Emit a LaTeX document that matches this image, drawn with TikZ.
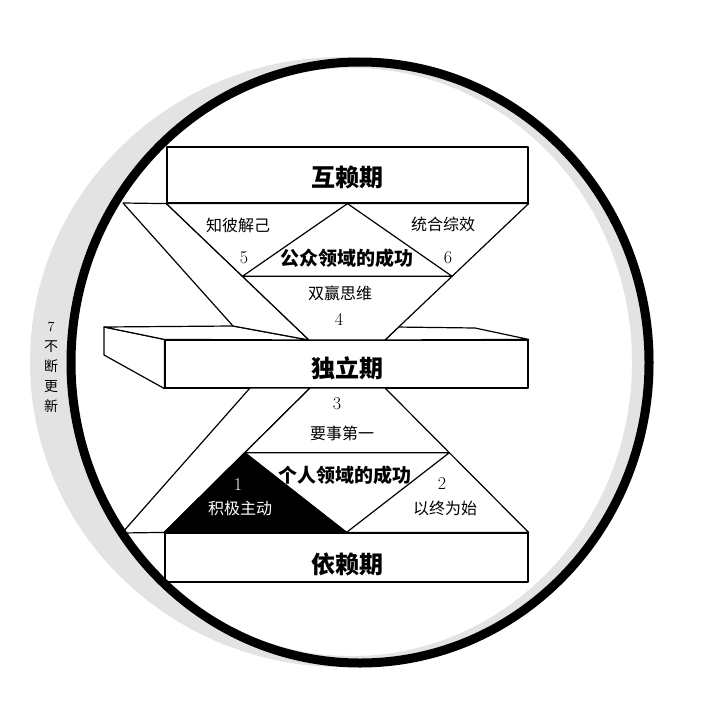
\documentclass[tikz,border=0pt]{standalone}
\usepackage{fontspec}
\newfontfamily\cjk{Noto Sans CJK SC}
\usetikzlibrary{calc}

\begin{document}
\begin{tikzpicture}[
    x=1pt, y=-1pt,                         % 按像素取坐标, y 向下
    line width=1.2pt, line join=round,
    face/.style={draw, fill=white},
    bar/.style={draw, fill=white, minimum width=363pt, inner sep=0pt},
    stage/.style={font=\cjk\bfseries\fontsize{24}{24}\selectfont},
    area/.style={font=\cjk\bfseries\fontsize{19}{19}\selectfont},
    habit/.style={font=\cjk\fontsize{16}{16}\selectfont},
    num/.style={font=\fontsize{18}{18}\selectfont}
  ]
  \useasboundingbox (0,0) rectangle (704,704);

  % 灰色晕边
  \fill[gray!22, even odd rule] (342,362) ellipse [x radius=312, y radius=305]
                                (352,362) ellipse [x radius=280, y radius=294];

  % 三个阶段的横条
  \node[bar, minimum width=361pt, minimum height=56pt] (hulai) at (347.5,175) {};
  \node[bar, minimum height=48pt] (duli) at (346.5,364) {};
  \node[bar, minimum height=49pt] (yilai) at (346.5,557.5) {};

  % 上半部分的点
  \coordinate (bandA) at (123,203);
  \coordinate (bandB) at (233,326);
  \coordinate (upL) at (hulai.south west);
  \coordinate (upR) at (hulai.south east);
  \coordinate (upM) at (hulai.south);
  \coordinate (midL) at (309,340);
  \coordinate (midR) at (385,340);
  \coordinate (backL) at (104,327);
  \coordinate (backR) at (475,328);
  \coordinate (sideB) at (104,355);
  \coordinate (crossR) at ($(upR)!0.905!(midR)$);
  \coordinate (pubL) at ($(upL)!0.533!(midL)$);
  \coordinate (pubR) at ($(upR)!0.533!(midR)$);

  % 下半部分的点
  \coordinate (lowL) at (310,388);
  \coordinate (lowR) at (385,388);
  \coordinate (bandC) at (250,388);
  \coordinate (bandD) at (122,533);
  \coordinate (baseL) at (yilai.north west);
  \coordinate (baseR) at (yilai.north east);
  \coordinate (baseM) at (yilai.north);
  \coordinate (perL) at ($(lowL)!0.448!(baseL)$);
  \coordinate (perR) at ($(lowR)!0.448!(baseR)$);

  % 中间立体板
  \draw[face] (backL) -- (duli.north west) -- (duli.south west) -- (sideB) -- cycle;
  \draw[face] (backL) -- (bandB) -- (midL) -- (duli.north west) -- cycle;
  \draw[face] (crossR) -- (backR) -- (duli.north east) -- (midR) -- cycle;

  % 上半: 斜带与倒三角
  \draw[face] (bandA) -- (upL) -- (midL) -- (bandB) -- cycle;
  \draw[face] (upL) -- (upR) -- (midR) -- (midL) -- cycle;
  \draw (pubL) -- (upM) -- (pubR) -- cycle;

  % 下半: 斜带与正三角
  \draw[face] (bandC) -- (lowL) -- (baseL) -- (bandD) -- cycle;
  \draw[face] (lowL) -- (lowR) -- (baseR) -- (baseL) -- cycle;
  \filldraw (perL) -- (baseL) -- (baseM) -- cycle;
  \draw (perL) -- (perR) -- (baseM) -- cycle;

  % 文字
  \node[stage] (hulaiT) at (347,177.5) {互赖期};
  \node[stage] (duliT) at (347,368.5) {独立期};
  \node[stage] (yilaiT) at (347,564) {依赖期};

  \node[habit] (h5) at (238,225) {知彼解己};
  \node[habit] (h6) at (443,224) {统合综效};
  \node[num] (n5) at (244,258) {5};
  \node[num] (n6) at (448,258) {6};
  \node[area] (gongzhong) at (347,258) {公众领域的成功};
  \node[habit] (h4) at (340,293) {双赢思维};
  \node[num] (n4) at (339,319) {4};

  \node[num] (n3) at (337,404) {3};
  \node[habit] (h3) at (342,433) {要事第一};
  \node[area] (geren) at (345,475) {个人领域的成功};
  \node[num, text=white] (n1) at (238,485) {1};
  \node[habit, text=white] (h1) at (240,508) {积极主动};
  \node[num] (n2) at (442,484) {2};
  \node[habit] (h2) at (445,508) {以终为始};

  \node[font=\cjk\fontsize{14}{20}\selectfont, align=center] (h7) at (51,367)
    {{\rmfamily 7}\\不\\断\\更\\新};

  % 外圈
  \coordinate (o) at (360,362.5);
  \draw[line width=9pt] (o) ellipse [x radius=289, y radius=300.5];
\end{tikzpicture}
\end{document}
